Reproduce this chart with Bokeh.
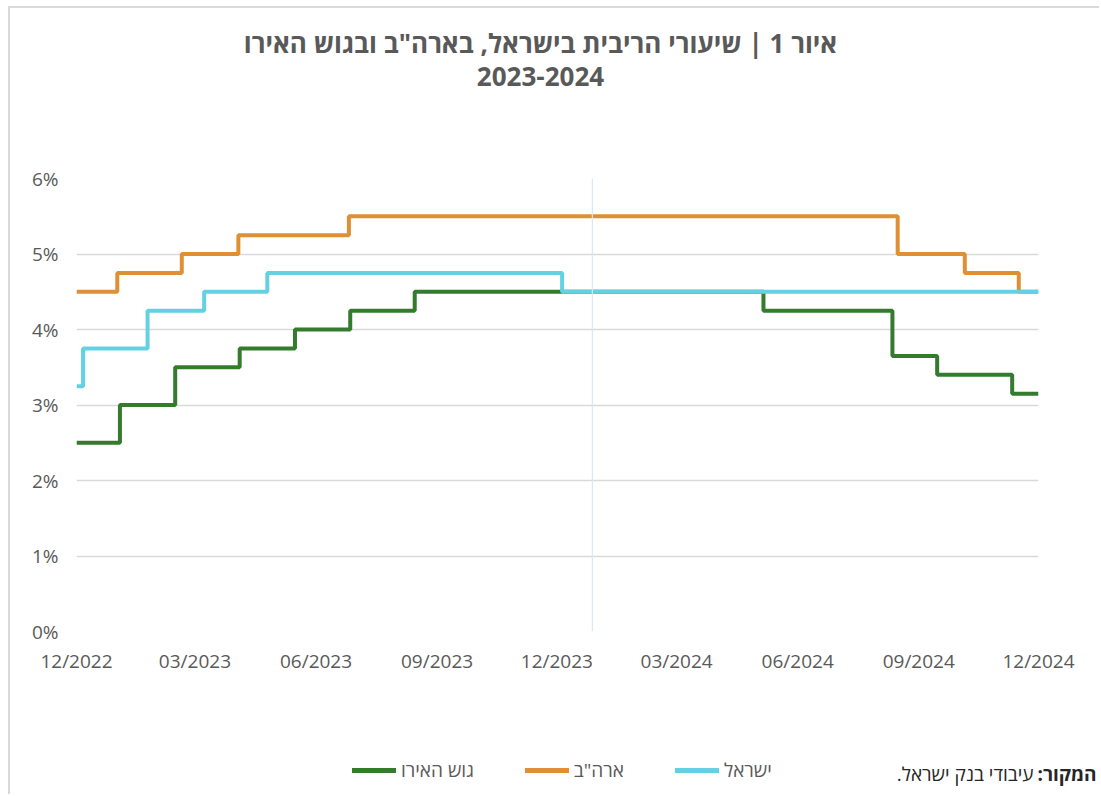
from datetime import datetime
from bokeh.plotting import figure
from bokeh.models import (Range1d, FixedTicker, DatetimeTickFormatter, PrintfTickFormatter,
                          Legend, LegendItem, Label, Span)
from bokeh.embed import file_html
from bokeh.resources import INLINE

# ---------------- data ----------------
axis_start = "2022-12-01"
axis_end = "2024-12-01"
tick_dates = ["2022-12-01", "2023-03-01", "2023-06-01", "2023-09-01", "2023-12-01",
              "2024-03-01", "2024-06-01", "2024-09-01", "2024-12-01"]
y_ticks = [0, 1, 2, 3, 4, 5, 6]

# Euro area (step changes)
euro_dates = ["2022-12-01", "2023-01-03", "2023-02-14", "2023-04-04", "2023-05-16",
              "2023-06-27", "2023-08-15", "2024-05-06", "2024-08-12", "2024-09-15",
              "2024-11-11", "2024-12-01"]
euro_rates = [2.5, 3.0, 3.5, 3.75, 4.0, 4.25, 4.5, 4.25, 3.65, 3.40, 3.15, 3.15]

# USA
us_dates = ["2022-12-01", "2023-01-01", "2023-02-19", "2023-04-03", "2023-06-26",
            "2024-08-16", "2024-10-06", "2024-11-16", "2024-12-01"]
us_rates = [4.5, 4.75, 5.0, 5.25, 5.5, 5.0, 4.75, 4.5, 4.5]

# Israel
il_dates = ["2022-12-01", "2022-12-06", "2023-01-24", "2023-03-08", "2023-04-25",
            "2023-12-05", "2024-12-01"]
il_rates = [3.25, 3.75, 4.25, 4.5, 4.75, 4.5, 4.5]

marker_date = "2023-12-28"

series_names = ["גוש האירו", "ארה\"ב", "ישראל"]
title_line1 = "איור 1 | שיעורי הריבית בישראל, בארה\"ב ובגוש האירו"
title_line2 = "2023-2024"
source_bold = "המקור:\u200f"
source_text = "עיבודי בנק ישראל.\u200f"

# ---------------- styling ----------------
FONT = "Open Sans"
GREY = "#595959"
GREEN = "#347b2e"
ORANGE = "#df8f34"
BLUE = "#64d1e3"
GRID = "#d9d9d9"
W = 1091

EPOCH = datetime(1970, 1, 1)


def d(s):
    return datetime.strptime(s, "%Y-%m-%d")


def ms(s):
    return (d(s) - EPOCH).total_seconds() * 1000.0


def blank(width, height, left, top):
    f = figure(width=width, height=height, output_backend="svg", toolbar_location=None,
               x_range=Range1d(0, width), y_range=Range1d(0, height),
               x_axis_location=None, y_axis_location=None,
               min_border_left=0, min_border_right=0, min_border_top=0, min_border_bottom=0)
    f.title = None
    f.outline_line_color = None
    f.grid.visible = False
    f.background_fill_alpha = 0
    f.border_fill_alpha = 0
    f.styles = {"position": "absolute", "left": f"{left}px", "top": f"{top}px"}
    return f


series = [(euro_dates, euro_rates, GREEN), (us_dates, us_rates, ORANGE),
          (il_dates, il_rates, BLUE)]

# ---------------- main chart ----------------
p = figure(width=W, height=788, x_axis_type="datetime",
           output_backend="svg", toolbar_location=None,
           x_range=Range1d(d(axis_start), d(axis_end)), y_range=Range1d(0, 6),
           min_border_left=66, min_border_right=63,
           min_border_top=170, min_border_bottom=165)
p.title = None
p.outline_line_color = None
p.background_fill_color = "white"
p.border_fill_color = "white"
p.styles = {"margin-left": "8px", "margin-top": "6px",
            "border-top": "2px solid #d9d9d9", "border-left": "2px solid #d9d9d9"}

p.xaxis.ticker = FixedTicker(ticks=[ms(t) for t in tick_dates])
p.xaxis.formatter = DatetimeTickFormatter(
    milliseconds="%m/%Y", seconds="%m/%Y", minsec="%m/%Y", minutes="%m/%Y",
    hourmin="%m/%Y", hours="%m/%Y", days="%m/%Y", months="%m/%Y", years="%m/%Y",
    strip_leading_zeros=False)
p.yaxis.ticker = FixedTicker(ticks=y_ticks)
p.yaxis.formatter = PrintfTickFormatter(format="%d%%")
for ax in (p.xaxis, p.yaxis):
    ax.axis_line_color = None
    ax.major_tick_line_color = None
    ax.minor_tick_line_color = None
    ax.major_label_text_font = FONT
    ax.major_label_text_font_size = "19px"
    ax.major_label_text_color = GREY
p.xaxis.major_label_standoff = 10
p.yaxis.major_label_standoff = 12

p.xgrid.grid_line_color = None
p.ygrid.ticker = FixedTicker(ticks=y_ticks)
p.ygrid.grid_line_color = GRID
p.ygrid.grid_line_width = 1.5

p.add_layout(Span(location=ms(marker_date), dimension="height",
                  line_color="#dce7f5", line_width=1.2))

for dates, rates, c in series:
    p.step(x=[d(s) for s in dates], y=rates, mode="after", line_color=c, line_width=4)

# ---------------- legend strip (same series, used only as legend keys) ----------------
leg = blank(460, 40, 340, 753)
items = []
for name, (dates, rates, c) in zip(series_names, series):
    r = leg.step(x=[ms(s) for s in dates], y=rates, mode="after",
                 line_color=c, line_width=5, line_cap="round")
    items.append(LegendItem(label=name, renderers=[r]))
legend = Legend(items=items, orientation="horizontal", location=(12, 10),
                border_line_color=None, background_fill_alpha=0,
                padding=0, margin=0, spacing=51,
                glyph_width=44, glyph_height=20, label_height=20,
                label_standoff=5, label_text_font=FONT,
                label_text_font_size="19px", label_text_color=GREY)
leg.add_layout(legend, "center")

# ---------------- header (title) ----------------
head = blank(W, 100, 10, 8)
head.add_layout(Label(x=530, y=66, x_units="screen", y_units="screen", text=title_line1,
                      text_align="center", text_baseline="middle", text_font=FONT,
                      text_font_size="26px", text_font_style="bold", text_color=GREY))
head.add_layout(Label(x=530, y=32, x_units="screen", y_units="screen", text=title_line2,
                      text_align="center", text_baseline="middle", text_font=FONT,
                      text_font_size="26px", text_font_style="bold", text_color=GREY))

# ---------------- source note ----------------
foot = blank(220, 40, 881, 753)
foot.add_layout(Label(x=215, y=20, x_units="screen", y_units="screen", text=source_bold,
                      text_align="right", text_baseline="middle", text_font=FONT,
                      text_font_size="19px", text_font_style="bold", text_color="#262626"))
foot.add_layout(Label(x=152, y=20, x_units="screen", y_units="screen", text=source_text,
                      text_align="right", text_baseline="middle", text_font=FONT,
                      text_font_size="19px", text_color="#262626"))

open("out.html", "w").write(file_html([p, head, leg, foot], INLINE))
